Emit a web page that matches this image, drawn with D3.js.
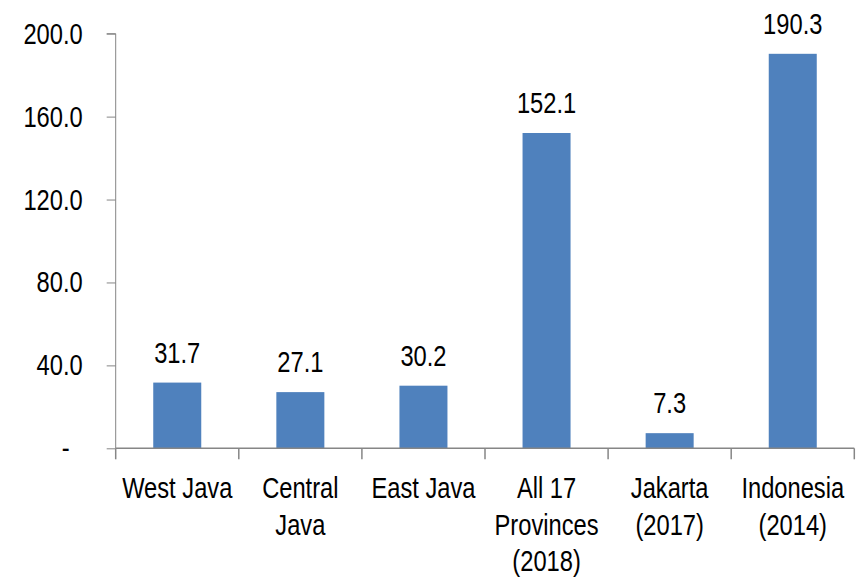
<!DOCTYPE html>
<html>
<head>
<meta charset="utf-8">
<script src="https://cdn.jsdelivr.net/npm/d3@7"></script>
<style>
  body { margin: 0; background: #fff; }
  text { font-family: "Liberation Sans Narrow", "Arial Narrow", "Liberation Sans", sans-serif; fill: #000; }
</style>
</head>
<body>
<div id="chart"></div>
<script>
// categories (each label split into its lines)
var categories = ["West Java", "Central Java", "East Java", "All 17 Provinces (2018)", "Jakarta (2017)", "Indonesia (2014)"];
var catLines = [["West Java"], ["Central", "Java"], ["East Java"], ["All 17", "Provinces", "(2018)"], ["Jakarta", "(2017)"], ["Indonesia", "(2014)"]];
var values = [31.7, 27.1, 30.2, 152.1, 7.3, 190.3];
var yTicks = [0, 40, 80, 120, 160, 200];

var W = 867, H = 577;
var margin = {top: 33.7, right: 12.7, bottom: 128.7, left: 115.7};
var width = W - margin.left - margin.right;
var height = H - margin.top - margin.bottom;

// no narrow font installed, so squeeze the regular one horizontally
var squeeze = 0.79;
var fontSize = "30px";

var svg = d3.select("#chart").append("svg")
    .attr("width", W)
    .attr("height", H)
  .append("g")
    .attr("transform", "translate(" + margin.left + "," + margin.top + ")");

var x = d3.scaleBand()
    .domain(categories)
    .range([0, width])
    .paddingInner(0.61)
    .paddingOuter(0.305);

var y = d3.scaleLinear()
    .domain([0, 200])
    .range([height, 0]);

var axisColor = "#868686";

// bars
svg.selectAll("rect.bar")
    .data(values)
    .enter()
    .append("rect")
    .attr("class", "bar")
    .attr("x", function(d, i) { return x(categories[i]); })
    .attr("width", x.bandwidth())
    .attr("y", function(d) { return y(d); })
    .attr("height", function(d) { return height - y(d); })
    .attr("fill", "#4F81BD");

// value labels
svg.selectAll("text.val")
    .data(values)
    .enter()
    .append("text")
    .attr("class", "val")
    .attr("transform", function(d, i) {
        return "translate(" + (x(categories[i]) + x.bandwidth() / 2) + "," + (y(d) - 20) + ") scale(" + squeeze + ",1)";
    })
    .attr("text-anchor", "middle")
    .style("font-size", fontSize)
    .text(function(d) { return d.toFixed(1); });

// y axis
var yAxis = d3.axisLeft(y)
    .tickValues(yTicks)
    .tickSize(9)
    .tickFormat(function(d) { return d === 0 ? "-" : d.toFixed(1); });

var gy = svg.append("g").call(yAxis);
gy.select(".domain").attr("stroke", axisColor).attr("d", "M-9," + y(200) + "H0V" + height);
gy.selectAll(".tick line").attr("stroke", axisColor);
gy.selectAll(".tick text")
    .style("font-size", fontSize)
    .attr("font-family", null)
    .attr("x", 0)
    .attr("dy", "0.35em")
    .attr("transform", function(d) {
        return "translate(" + (d === 0 ? -46 : -33) + ",-1) scale(" + squeeze + ",1)";
    });

// x axis: baseline and ticks between categories
var step = x.step();
svg.append("line")
    .attr("x1", 0).attr("x2", width)
    .attr("y1", height).attr("y2", height)
    .attr("stroke", axisColor)
    .attr("stroke-width", 1.5);

svg.selectAll("line.xtick")
    .data(d3.range(categories.length + 1))
    .enter()
    .append("line")
    .attr("class", "xtick")
    .attr("x1", function(i) { return i * step; })
    .attr("x2", function(i) { return i * step; })
    .attr("y1", height)
    .attr("y2", height + 11)
    .attr("stroke", axisColor)
    .attr("stroke-width", 1.5);

// category labels
var catText = svg.selectAll("text.cat")
    .data(catLines)
    .enter()
    .append("text")
    .attr("class", "cat")
    .attr("text-anchor", "middle")
    .style("font-size", fontSize)
    .attr("transform", function(d, i) {
        return "translate(" + (x(categories[i]) + x.bandwidth() / 2) + "," + (height + 50) + ") scale(" + squeeze + ",1)";
    });

catText.selectAll("tspan")
    .data(function(d) { return d; })
    .enter()
    .append("tspan")
    .attr("x", 0)
    .attr("y", function(d, j) { return j * 36.5; })
    .text(function(d) { return d; });
</script>
</body>
</html>
